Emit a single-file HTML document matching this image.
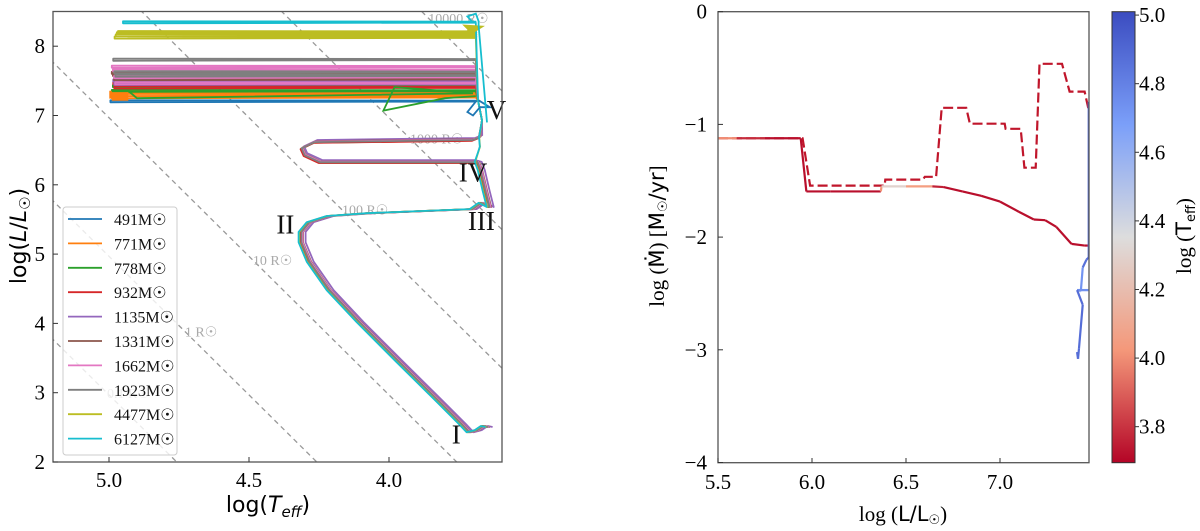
<!DOCTYPE html>
<html><head><meta charset="utf-8"><style>
html,body{margin:0;padding:0;background:#fff;width:1200px;height:531px;overflow:hidden;}
svg{display:block;}
</style></head><body>
<svg id="fig" width="1200" height="531" viewBox="0 0 1200 531" xmlns="http://www.w3.org/2000/svg">
<defs>
<linearGradient id="cbgrad" x1="0" y1="1" x2="0" y2="0">
<stop offset="0" stop-color="#b40426"/><stop offset="0.25" stop-color="#f4987a"/>
<stop offset="0.5" stop-color="#dddddd"/><stop offset="0.75" stop-color="#7b9ff9"/>
<stop offset="1" stop-color="#3b4cc0"/></linearGradient>
<clipPath id="clipL"><rect x="53" y="11.5" width="449" height="450.5"/></clipPath>
<clipPath id="clipR"><rect x="718" y="11.7" width="371" height="451"/></clipPath>
</defs>
<g id="left"></g>
<g id="right"></g>
<g id="cbar"></g>
</svg>
<script>
// ---------- LEFT PANEL DATA ----------
const models = ["491","771","778","932","1135","1331","1662","1923","4477","6127"];
const modelColors = ["#1f77b4","#ff7f0e","#2ca02c","#d62728","#9467bd","#8c564b","#e377c2","#7f7f7f","#bcbd22","#17becf"];
const msShift = [0,0.004,0.006,0.008,-0.013,-0.004,-0.002,0.002,0.010,0.012];
const hasLoop = [true,true,true,true,true,true,true,true,false,false];
const baseTrack = [[3.643,2.505],[3.66,2.52],[3.682,2.46],[3.711,2.43],[3.739,2.55],[3.818,2.87],[3.961,3.44],[4.104,4.02],[4.211,4.48],[4.282,4.89],[4.311,5.17],[4.311,5.32],[4.282,5.46],[4.211,5.55],[4.068,5.59],[3.7,5.65],[3.668,5.74],[3.639,5.68],[3.654,5.92],[3.671,6.21],[3.682,6.33]];
const loopTrack = [[3.7,6.33],[4.246,6.33],[4.30,6.43],[4.311,6.53],[4.264,6.62],[3.7,6.65],[3.675,6.69]];
const noLoopTrack = [[3.68,6.45],[3.672,6.55],[3.675,6.69]];
const upperTrack = [[3.668,6.93],[3.682,7.22]];
const lateLevels = [[7.2],[7.26,7.29,7.33],[7.35,7.42,7.44],[7.46,7.40],[7.50,7.45],[7.61,7.58,7.52],[7.70,7.65,7.55,7.46],[7.80,7.62,7.57],[8.12,8.15,8.18,8.20],[8.34]];
const lateLeftT = [4.995,4.99,4.99,4.985,4.985,4.99,4.99,4.985,4.98,4.95];
const radiusVals = [0.1,1,10,100,1000,10000];
const radiusLabels = ["0.1 R☉","1 R☉","10 R☉","100 R☉","1000 R☉","10000 R☉"];
const radiusLabelT = [5.007,4.729,4.486,4.168,3.925,3.86];
const xTicksL = [5.0,4.5,4.0];
const yTicksL = [2,3,4,5,6,7,8];
const phaseLabels = ["I","II","III","IV","V"];
const phaseT = [3.76,4.37,3.67,3.70,3.616];
const phaseL = [2.27,5.3,5.35,6.05,6.95];

// ---------- RIGHT PANEL DATA ----------
const solidL = [5.5,5.6,5.75,5.94,5.97,6.10,6.366,6.37,6.50,6.64,6.70,6.80,6.90,7.00,7.10,7.18,7.24,7.30,7.38,7.45,7.47];
const solidM = [-1.123,-1.123,-1.123,-1.123,-1.595,-1.595,-1.595,-1.55,-1.55,-1.55,-1.556,-1.595,-1.634,-1.685,-1.775,-1.844,-1.85,-1.91,-2.06,-2.075,-2.075];
const solidT = [4.15,3.85,3.72,3.72,3.72,3.72,3.72,4.3,4.3,3.8,3.72,3.72,3.72,3.72,3.72,3.72,3.72,3.72,3.72,3.72,3.72];
const dashL = [5.5,5.95,5.99,6.386,6.39,6.59,6.60,6.66,6.69,6.82,6.84,7.025,7.03,7.11,7.13,7.19,7.21,7.33,7.37,7.45,7.47];
const dashM = [-1.123,-1.123,-1.543,-1.543,-1.49,-1.49,-1.465,-1.465,-0.853,-0.853,-0.994,-0.994,-1.039,-1.039,-1.384,-1.384,-0.462,-0.462,-0.709,-0.709,-0.86];
const blueL = [7.472,7.472,7.46,7.44,7.43,7.41,7.47,7.41,7.44,7.42,7.415,7.41];
const blueM = [-0.8,-2.18,-2.2,-2.27,-2.48,-2.47,-2.47,-2.47,-2.6,-2.99,-3.08,-3.02];
const blueT = [4.9,4.9,4.88,4.85,4.6,4.6,4.6,4.88,4.88,4.88,4.88,4.88];
const xTicksR = [5.5,6.0,6.5,7.0];
const yTicksR = [0,-1,-2,-3,-4];
const cbTicks = [3.8,4.0,4.2,4.4,4.6,4.8,5.0];

const NS="http://www.w3.org/2000/svg";
const SERIF='"Liberation Serif", serif';
const SANS='"DejaVu Sans", "Liberation Sans", sans-serif';
function XL(T){return 53+(5.2-T)*280;}
function YL(L){return 462-(L-2)*69.3;}
function XR(L){return 718+(L-5.5)*188;}
function YR(M){return 11.7-M*112.7;}
function YC(t){return 462.7-(t-3.695)*343;}
function mk(tag,attrs,parent,txt){const e=document.createElementNS(NS,tag);for(const k in attrs)e.setAttribute(k,attrs[k]);if(txt!==undefined)e.textContent=txt;parent.appendChild(e);return e;}
function cw(t){const f=1-(t-3.695)/(5.01-3.695);const st=[[59,76,192],[124,159,249],[221,221,221],[246,152,121],[180,4,38]];const p=Math.max(0,Math.min(1,f))*4;const i=Math.min(3,Math.floor(p));const r=p-i;const c=st[i].map((v,k)=>Math.round(v+(st[i+1][k]-v)*r));return "rgb("+c.join(",")+")";}

// ---------- LEFT PANEL ----------
const gL=document.getElementById('left');
const plotL=mk('g',{'clip-path':'url(#clipL)'},gL);
radiusVals.forEach((R,i)=>{
  const f=T=>2*Math.log10(R)+4*(T-3.758);
  const ln=mk('line',{x1:XL(5.3),y1:YL(f(5.3)),x2:XL(3.5),y2:YL(f(3.5)),stroke:'#999','stroke-width':1.3,'stroke-dasharray':'5,4'},plotL);
  
  
});
radiusVals.forEach((R,i)=>{
  const T=radiusLabelT[i];const L=2*Math.log10(R)+4*(T-3.758);
  const t=mk('text',{x:XL(T),y:YL(L)+5,'font-size':14,fill:'#aaa','font-family':SERIF},plotL,radiusLabels[i]);
  
  
});
models.forEach((m,i)=>{
  const s=msShift[i];const pts=[];
  baseTrack.forEach(p=>pts.push([p[0]+s,p[1]]));
  (hasLoop[i]?loopTrack:noLoopTrack).forEach(p=>pts.push([p[0]+(hasLoop[i]?s*0.6:s*0.3),p[1]+(hasLoop[i]?-s*2:0)]));
  upperTrack.forEach(p=>pts.push([p[0],p[1]]));
  const lv=lateLevels[i];
  lv.forEach((L,j)=>{pts.push([3.69,L]);pts.push([lateLeftT[i]-0.004*j,L-0.01]);pts.push([lateLeftT[i]-0.004*j,L+0.02]);pts.push([3.688,L+0.015]);});
  const d=pts.map((p,k)=>(k?'L':'M')+XL(p[0]).toFixed(1)+','+YL(p[1]).toFixed(1)).join('');
  const path=mk('path',{d:d,fill:'none',stroke:modelColors[i],'stroke-width':1.8,'stroke-linejoin':'round'},plotL);
  
  
});
const extras=[
 {c:"#ff7f0e",p:[[4.99,7.25],[4.94,7.25],[4.94,7.32],[4.99,7.32],[4.99,7.28],[4.94,7.28]],w:5},
 {c:"#2ca02c",p:[[4.99,7.35],[4.93,7.35],[4.90,7.25],[3.70,7.32],[3.98,7.41],[4.02,7.07],[3.80,7.25],[3.69,7.28]],w:1.8},
 {c:"#1f77b4",p:[[3.69,7.2],[3.72,7.05],[3.70,7.0],[3.675,7.12],[3.64,7.12],[3.68,7.22]],w:1.8},
 {c:"#bcbd22",p:[[3.72,8.24],[3.70,8.22],[3.68,8.27],[3.72,8.28],[3.70,8.20]],w:4},
 {c:"#17becf",p:[[3.70,8.34],[3.72,8.43],[3.69,8.47],[3.68,8.36],[3.68,8.30],[3.65,6.9]],w:1.8}
];
extras.forEach((e,i)=>{
  const d=e.p.map((p,k)=>(k?'L':'M')+XL(p[0]).toFixed(1)+','+YL(p[1]).toFixed(1)).join('');
  const path=mk('path',{d:d,fill:'none',stroke:e.c,'stroke-width':e.w},plotL);
  
  
});
phaseLabels.forEach((s,i)=>{
  const t=mk('text',{x:XL(phaseT[i]),y:YL(phaseL[i]),'font-size':27,'text-anchor':'middle','font-family':SERIF,fill:'#111'},gL,s);
  
  
});
const leg=mk('g',{},gL);


mk('rect',{x:63,y:207,width:114,height:248,rx:3,fill:'#fff','fill-opacity':0.8,stroke:'#ccc'},leg);
models.forEach((m,i)=>{
  const y=219+i*24.4;
  const ln=mk('line',{x1:68,y1:y,x2:102,y2:y,stroke:modelColors[i],'stroke-width':1.8},leg);
  
  
  const t=mk('text',{x:114,y:y+6,'font-size':16,'font-family':SERIF,fill:'#111'},leg,m+'M☉');
  
  
});
const frL=mk('rect',{x:53,y:11.5,width:449,height:450.5,fill:'none',stroke:'#555','stroke-width':1.3},gL);


xTicksL.forEach(v=>{
  mk('line',{x1:XL(v),y1:462,x2:XL(v),y2:457,stroke:'#333'},gL);
  const t=mk('text',{x:XL(v),y:487,'font-size':21,'text-anchor':'middle','font-family':SERIF},gL,v.toFixed(1));
  
  
});
yTicksL.forEach(v=>{
  mk('line',{x1:53,y1:YL(v),x2:58,y2:YL(v),stroke:'#333'},gL);
  const t=mk('text',{x:45,y:YL(v)+7,'font-size':21,'text-anchor':'end','font-family':SERIF},gL,String(v));
  
  
});
const fig=document.getElementById('fig');
const xt=mk('text',{x:268,y:512,'font-size':22,'text-anchor':'middle','font-family':SANS},fig);


xt.innerHTML='log(<tspan font-style="italic">T</tspan><tspan font-style="italic" font-size="15" dy="5">eff</tspan><tspan dy="-5">)</tspan>';
const yt=mk('text',{x:0,y:0,'font-size':22,'text-anchor':'middle','font-family':SANS,transform:'translate(26,236) rotate(-90)'},fig);


yt.innerHTML='log(<tspan font-style="italic">L</tspan>/<tspan font-style="italic">L</tspan><tspan font-size="15" dy="4">☉</tspan><tspan dy="-4">)</tspan>';

// ---------- RIGHT PANEL ----------
const gR=document.getElementById('right');
const plotR=mk('g',{'clip-path':'url(#clipR)'},gR);
const dd=dashL.map((L,k)=>(k?'L':'M')+XR(L).toFixed(1)+','+YR(dashM[k]).toFixed(1)).join('');
const dp=mk('path',{d:dd,fill:'none',stroke:'#c0162b','stroke-width':2.2,'stroke-dasharray':'10,4'},plotR);


for(let k=0;k<solidL.length-1;k++){
  const s=mk('line',{x1:XR(solidL[k]),y1:YR(solidM[k]),x2:XR(solidL[k+1]),y2:YR(solidM[k+1]),stroke:cw((solidT[k]+solidT[k+1])/2),'stroke-width':2.2},plotR);
  
  
}
for(let k=0;k<blueL.length-1;k++){
  const s=mk('line',{x1:XR(blueL[k]),y1:YR(blueM[k]),x2:XR(blueL[k+1]),y2:YR(blueM[k+1]),stroke:cw((blueT[k]+blueT[k+1])/2),'stroke-width':2.2},plotR);
  
  
}
const frR=mk('rect',{x:718,y:11.7,width:371,height:451,fill:'none',stroke:'#555','stroke-width':1.3},gR);


xTicksR.forEach(v=>{
  mk('line',{x1:XR(v),y1:462.7,x2:XR(v),y2:458,stroke:'#333'},gR);
  const t=mk('text',{x:XR(v),y:489,'font-size':21,'text-anchor':'middle','font-family':SERIF},gR,v.toFixed(1));
  
  
});
yTicksR.forEach(v=>{
  mk('line',{x1:718,y1:YR(v),x2:723,y2:YR(v),stroke:'#333'},gR);
  const t=mk('text',{x:707,y:YR(v)+7,'font-size':21,'text-anchor':'end','font-family':SERIF},gR,v===0?'0':'−'+Math.abs(v));
  
  
});
const xr=mk('text',{x:903,y:521,'font-size':21,'text-anchor':'middle','font-family':SERIF},gR);


xr.innerHTML='log (<tspan font-family=\'"DejaVu Sans",sans-serif\'>L/L</tspan><tspan font-size="13" dy="3">☉</tspan><tspan dy="-3">)</tspan>';
const yr=mk('text',{x:0,y:0,'font-size':21,'text-anchor':'middle','font-family':SERIF,transform:'translate(664,236) rotate(-90)'},gR);


yr.innerHTML='log (<tspan font-family=\'"DejaVu Sans",sans-serif\'>Ṁ</tspan>) [<tspan font-family=\'"DejaVu Sans",sans-serif\'>M</tspan><tspan font-size="13" dy="3">☉</tspan><tspan dy="-3" font-family=\'"DejaVu Sans",sans-serif\'>/yr</tspan>]';

// ---------- COLORBAR ----------
const gC=document.getElementById('cbar');
const cr=mk('rect',{x:1112,y:11.7,width:23,height:451,fill:'url(#cbgrad)',stroke:'#333','stroke-width':1},gC);


cbTicks.forEach(v=>{
  mk('line',{x1:1135,y1:YC(v),x2:1139,y2:YC(v),stroke:'#333'},gC);
  const t=mk('text',{x:1139,y:YC(v)+7,'font-size':21,'font-family':SERIF},gC,v.toFixed(1));
  
  
});
const cl=mk('text',{x:0,y:0,'font-size':21,'text-anchor':'middle','font-family':SERIF,transform:'translate(1191,236) rotate(-90)'},gC);


cl.innerHTML='log (<tspan font-family=\'"DejaVu Sans",sans-serif\'>T</tspan><tspan font-family=\'"DejaVu Sans",sans-serif\' font-size="13" dy="4">eff</tspan><tspan dy="-4">)</tspan>';
</script>
</body></html>
